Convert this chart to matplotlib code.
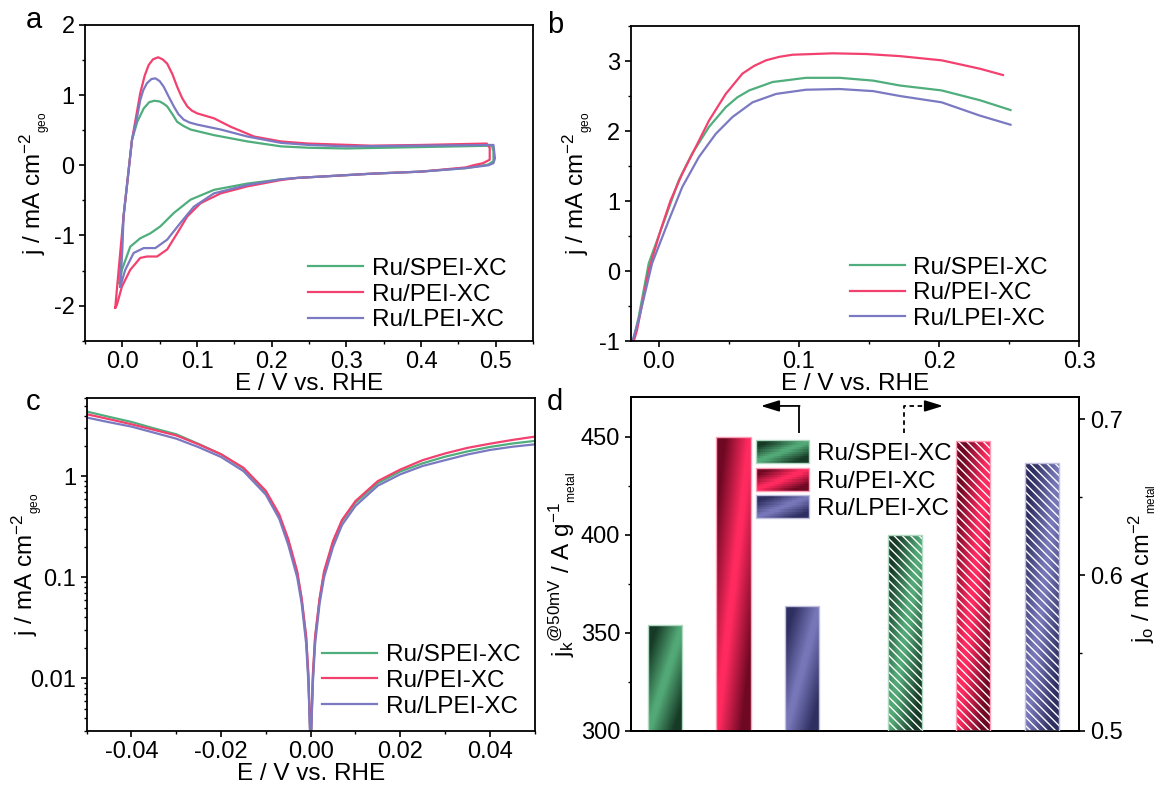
import numpy as np
import matplotlib
matplotlib.use("Agg")
import matplotlib.pyplot as plt
from matplotlib.ticker import MultipleLocator, LogLocator, FuncFormatter, NullFormatter
from matplotlib.legend_handler import HandlerBase
from matplotlib.patches import Rectangle
import matplotlib.colors as mcolors

# ---------------- data ----------------
series = ["Ru/SPEI-XC", "Ru/PEI-XC", "Ru/LPEI-XC"]
line_colors = ["#4fae7c", "#f2416f", "#7b79c1"]

# (a) cyclic voltammograms: anodic (upper) and cathodic (lower) branches
cv_spei_E = [-0.0037, -0.001, 0.0016, 0.0129, 0.020, 0.0286, 0.036, 0.0429, 0.050, 0.055, 0.060, 0.067,
             0.0734, 0.082, 0.0913, 0.1227, 0.1676, 0.2124, 0.25, 0.30, 0.35, 0.40, 0.45, 0.495, 0.497,
             0.497, 0.49, 0.46, 0.40, 0.333, 0.284, 0.234, 0.2124, 0.1676, 0.1227, 0.0913, 0.0689,
             0.051, 0.0375, 0.024, 0.0106, -0.0006, -0.0037]
cv_spei_j = [-1.68, -1.20, -0.73, 0.36, 0.62, 0.81, 0.90, 0.92, 0.91, 0.88, 0.84, 0.73,
             0.62, 0.56, 0.51, 0.43, 0.34, 0.27, 0.25, 0.24, 0.25, 0.26, 0.27, 0.28, 0.20,
             0.06, 0.01, -0.04, -0.09, -0.12, -0.15, -0.18, -0.20, -0.26, -0.35, -0.49, -0.68,
             -0.87, -0.97, -1.04, -1.16, -1.49, -1.68]

cv_pei_E = [-0.0095, -0.005, 0.0016, 0.0129, 0.024, 0.030, 0.0353, 0.041, 0.0479, 0.054, 0.060, 0.067,
            0.0734, 0.080, 0.0869, 0.093, 0.1003, 0.1227, 0.145, 0.1765, 0.2124, 0.249, 0.333, 0.40,
            0.488, 0.492, 0.492, 0.483, 0.47, 0.46, 0.40, 0.333, 0.284, 0.234, 0.2124, 0.1676,
            0.1317, 0.1048, 0.0869, 0.0734, 0.060, 0.0465, 0.0331, 0.024, 0.0106, -0.0006,
            -0.0073, -0.0095]
cv_pei_j = [-2.03, -1.50, -0.73, 0.36, 1.03, 1.28, 1.43, 1.51, 1.54, 1.51, 1.45, 1.30,
            1.12, 0.96, 0.84, 0.78, 0.74, 0.67, 0.55, 0.41, 0.34, 0.31, 0.28, 0.29,
            0.31, 0.25, 0.08, 0.03, 0.0, -0.03, -0.09, -0.12, -0.15, -0.18, -0.21, -0.30,
            -0.40, -0.54, -0.73, -0.97, -1.20, -1.30, -1.30, -1.32, -1.49, -1.73,
            -1.99, -2.03]

cv_lpei_E = [-0.0028, 0.0, 0.0016, 0.0129, 0.020, 0.024, 0.028, 0.033, 0.039, 0.0442, 0.050, 0.0554,
             0.062, 0.0689, 0.075, 0.0823, 0.090, 0.1003, 0.1317, 0.1676, 0.2124, 0.25, 0.30, 0.40,
             0.497, 0.499, 0.497, 0.49, 0.46, 0.40, 0.333, 0.284, 0.234, 0.2124, 0.1676, 0.1227,
             0.0958, 0.0779, 0.060, 0.0442, 0.0286, 0.0151, 0.0039, -0.0028]
cv_lpei_j = [-1.73, -1.20, -0.73, 0.36, 0.70, 0.93, 1.07, 1.17, 1.23, 1.24, 1.20, 1.12,
             0.98, 0.84, 0.73, 0.65, 0.61, 0.58, 0.51, 0.41, 0.32, 0.29, 0.27, 0.28,
             0.29, 0.10, 0.03, 0.0, -0.04, -0.09, -0.12, -0.15, -0.18, -0.20, -0.28, -0.40,
             -0.59, -0.82, -1.06, -1.18, -1.18, -1.25, -1.49, -1.73]

# (b) polarization curves
pol_spei_E = [-0.0185, -0.0143, -0.0071, 0.0049, 0.0144, 0.0239, 0.0359, 0.0478, 0.056, 0.0645, 0.0812,
              0.105, 0.129, 0.1529, 0.172, 0.2017, 0.229, 0.2508]
pol_spei_j = [-1.02, -0.66, 0.11, 0.77, 1.30, 1.68, 2.06, 2.34, 2.48, 2.58, 2.70,
              2.76, 2.76, 2.72, 2.65, 2.58, 2.44, 2.30]
pol_pei_E = [-0.0185, -0.0155, -0.0071, 0.0013, 0.0085, 0.0168, 0.0264, 0.0359, 0.0478, 0.0597,
             0.068, 0.0765, 0.086, 0.0955, 0.110, 0.124, 0.148, 0.172, 0.2017, 0.229, 0.2454]
pol_pei_j = [-1.05, -0.85, 0.01, 0.58, 1.01, 1.39, 1.77, 2.15, 2.53, 2.82,
             2.93, 3.01, 3.06, 3.09, 3.10, 3.11, 3.10, 3.07, 3.01, 2.89, 2.80]
pol_lpei_E = [-0.0190, -0.0143, -0.0047, 0.0071, 0.0168, 0.0287, 0.0407, 0.0526, 0.0669, 0.0837,
              0.105, 0.129, 0.1529, 0.172, 0.2017, 0.229, 0.2508]
pol_lpei_j = [-1.02, -0.70, 0.11, 0.72, 1.20, 1.63, 1.96, 2.20, 2.41, 2.53,
              2.59, 2.60, 2.57, 2.50, 2.41, 2.22, 2.09]

# (c) micro-polarization region, |j| on log scale
mp_E = [-0.05, -0.045, -0.04, -0.035, -0.03, -0.025, -0.02, -0.015, -0.01, -0.007, -0.005, -0.003,
        -0.002, -0.001, -0.0005, 0.0, 0.0005, 0.001, 0.002, 0.003, 0.005, 0.007, 0.01, 0.015,
        0.02, 0.025, 0.03, 0.035, 0.04, 0.045, 0.05]
mp_spei_j = [4.4, 3.9, 3.47, 3.0, 2.62, 2.1, 1.66, 1.2, 0.70, 0.40, 0.23, 0.11,
             0.06, 0.025, 0.01, 0.002, 0.01, 0.025, 0.06, 0.11, 0.22, 0.36, 0.55, 0.86,
             1.12, 1.35, 1.57, 1.77, 1.96, 2.12, 2.25]
mp_pei_j = [4.14, 3.7, 3.29, 2.9, 2.55, 2.08, 1.66, 1.22, 0.72, 0.42, 0.24, 0.115,
            0.062, 0.026, 0.011, 0.002, 0.011, 0.026, 0.062, 0.115, 0.23, 0.37, 0.57, 0.90,
            1.17, 1.45, 1.69, 1.92, 2.11, 2.30, 2.48]
mp_lpei_j = [3.84, 3.45, 3.12, 2.72, 2.37, 1.95, 1.56, 1.13, 0.66, 0.38, 0.21, 0.10,
             0.055, 0.022, 0.009, 0.002, 0.009, 0.022, 0.055, 0.10, 0.20, 0.33, 0.51, 0.81,
             1.05, 1.27, 1.45, 1.65, 1.83, 1.97, 2.08]

# (d) kinetic current (left axis) and exchange current density (right axis)
jk_values = [354, 450, 364]          # A g-1 metal
j0_values = [0.626, 0.686, 0.672]    # mA cm-2 metal
jk_pos = [1, 2, 3]
j0_pos = [4.5, 5.5, 6.5]
bar_light = ["#52a876", "#ff2a5f", "#7676b8"]
bar_dark = ["#163a26", "#6e0823", "#2e2e60"]

# ---------------- style ----------------
plt.rcParams.update({
    "font.family": ["Liberation Sans", "DejaVu Sans"],
    "mathtext.fontset": "custom",
    "mathtext.rm": "Liberation Sans",
    "mathtext.it": "Liberation Sans:italic",
    "mathtext.bf": "Liberation Sans:bold",
    "mathtext.default": "regular",
    "axes.unicode_minus": False,
    "font.size": 17,
    "axes.linewidth": 1.3,
    "xtick.direction": "out", "ytick.direction": "out",
    "xtick.major.size": 4, "ytick.major.size": 4,
    "xtick.minor.size": 2.5, "ytick.minor.size": 2.5,
    "xtick.major.width": 1.2, "ytick.major.width": 1.2,
    "xtick.minor.width": 1.0, "ytick.minor.width": 1.0,
    "xtick.major.pad": 3.5, "ytick.major.pad": 3.5,
    "xtick.labelsize": 17, "ytick.labelsize": 17,
    "axes.labelsize": 17.5,
    "hatch.linewidth": 1.0,
})

FS_LEG = 17.5
LW = 1.6

fig = plt.figure(figsize=(11.58, 7.91), dpi=100)
axA = fig.add_axes([0.0734, 0.5693, 0.3869, 0.3991])
axB = fig.add_axes([0.5446, 0.5689, 0.3876, 0.3982])
axC = fig.add_axes([0.0748, 0.0759, 0.3869, 0.4210])
axD = fig.add_axes([0.5446, 0.0759, 0.3876, 0.4223])

ylab_geo = r"j / mA cm$^{-2}$$_{_{geo}}$"
xlab = "E / V vs. RHE"


def small_legend(ax, anchor):
    ax.legend(loc="lower right", bbox_to_anchor=anchor, frameon=False, fontsize=FS_LEG,
              borderpad=0, borderaxespad=0, handlelength=2.25, handletextpad=0.35,
              labelspacing=0.15)


# ---- (a)
for E, j, lab, c in zip([cv_spei_E, cv_pei_E, cv_lpei_E], [cv_spei_j, cv_pei_j, cv_lpei_j],
                        series, line_colors):
    axA.plot(E, j, color=c, lw=LW, label=lab)
axA.set_xlim(-0.05, 0.55)
axA.set_ylim(-2.5, 2)
axA.xaxis.set_major_locator(MultipleLocator(0.1))
axA.xaxis.set_minor_locator(MultipleLocator(0.05))
axA.yaxis.set_major_locator(MultipleLocator(1))
axA.yaxis.set_minor_locator(MultipleLocator(0.5))
axA.xaxis.set_major_formatter(FuncFormatter(lambda v, p: f"{v:.1f}"))
axA.set_xlabel(xlab, labelpad=0)
axA.set_ylabel(ylab_geo)
axA.yaxis.set_label_coords(-0.072, 0.5)
small_legend(axA, (0.94, 0.03))

# ---- (b)
for E, j, lab, c in zip([pol_spei_E, pol_pei_E, pol_lpei_E], [pol_spei_j, pol_pei_j, pol_lpei_j],
                        series, line_colors):
    axB.plot(E, j, color=c, lw=LW, label=lab)
axB.set_xlim(-0.02, 0.3)
axB.set_ylim(-1, 3.5)
axB.xaxis.set_major_locator(MultipleLocator(0.1))
axB.xaxis.set_minor_locator(MultipleLocator(0.05))
axB.yaxis.set_major_locator(MultipleLocator(1))
axB.yaxis.set_minor_locator(MultipleLocator(0.5))
axB.xaxis.set_major_formatter(FuncFormatter(lambda v, p: f"{v:.1f}"))
axB.set_xlabel(xlab, labelpad=0)
axB.set_ylabel(ylab_geo)
axB.yaxis.set_label_coords(-0.077, 0.5)
small_legend(axB, (0.93, 0.035))

# ---- (c)
for j, lab, c in zip([mp_spei_j, mp_pei_j, mp_lpei_j], series, line_colors):
    axC.plot(mp_E, j, color=c, lw=LW, label=lab)
axC.set_yscale("log")
axC.set_xlim(-0.05, 0.05)
axC.set_ylim(0.003, 6)
axC.xaxis.set_major_locator(MultipleLocator(0.02))
axC.xaxis.set_minor_locator(MultipleLocator(0.01))
axC.xaxis.set_major_formatter(FuncFormatter(lambda v, p: f"{v:.2f}"))
axC.yaxis.set_major_locator(LogLocator(base=10))
axC.yaxis.set_minor_locator(LogLocator(base=10, subs=np.arange(2, 10)))
axC.yaxis.set_major_formatter(FuncFormatter(lambda v, p: f"{v:g}"))
axC.yaxis.set_minor_formatter(NullFormatter())
axC.set_xlabel(xlab, labelpad=0)
axC.set_ylabel(ylab_geo)
axC.yaxis.set_label_coords(-0.092, 0.5)
small_legend(axC, (0.968, 0.04))


# ---- (d)
def grad_rgb(light, dark, nx=40, ny=120):
    lo = np.array(mcolors.to_rgb(light))
    dk = np.array(mcolors.to_rgb(dark))
    u = np.linspace(0, 1, nx)[None, :]
    v = np.linspace(0, 1, ny)[:, None]
    s = np.clip(np.abs(u - v) * 1.5 - 0.1, 0, 1)
    return lo[None, None, :] * (1 - s[..., None]) + dk[None, None, :] * s[..., None]


def gradient_bars(ax, pos, vals, base, hatch=None):
    bars = ax.bar(pos, np.array(vals) - base, bottom=base, width=0.5,
                  facecolor="none", edgecolor="none", zorder=2)
    for rect, lc, dc in zip(bars, bar_light, bar_dark):
        x0, y0 = rect.get_x(), rect.get_y()
        w, h = rect.get_width(), rect.get_height()
        im = ax.imshow(grad_rgb(lc, dc), extent=(x0, x0 + w, y0, y0 + h), origin="lower",
                       aspect="auto", zorder=1.5, interpolation="bilinear")
        im.set_clip_path(rect)
        edge = tuple(0.45 * np.array(mcolors.to_rgb(lc)) + 0.55)
        if hatch:
            ax.bar(x0 + w / 2, h, bottom=y0, width=w, facecolor="none", edgecolor="white",
                   hatch=hatch, linewidth=0, zorder=2.5)
        ax.bar(x0 + w / 2, h, bottom=y0, width=w, facecolor="none", edgecolor=edge,
               linewidth=1.0, zorder=3)


gradient_bars(axD, jk_pos, jk_values, 300)
axD.set_xlim(0.5, 7.05)
axD.set_ylim(300, 470.4)
axD.set_xticks([])
axD.yaxis.set_major_locator(MultipleLocator(50))
axD.yaxis.set_minor_locator(MultipleLocator(25))
axD.set_ylabel(r"j$_{k}$$^{@50mV}$ / A g$^{-1}$$_{_{metal}}$")
axD.yaxis.set_label_coords(-0.117, 0.5)

# axis indicator arrows (left-axis data coordinates)
arrow_kw = dict(arrowstyle="-|>,head_length=0.55,head_width=0.17", color="k", lw=1.3,
                shrinkA=0, shrinkB=0, mutation_scale=20)
axD.plot([2.96, 2.96], [451.9, 465.8], color="k", lw=1.3, solid_capstyle="butt")
axD.annotate("", xy=(2.40, 465.8), xytext=(2.965, 465.8), arrowprops=arrow_kw)
axD.plot([4.49, 4.49, 4.90], [451.9, 465.8, 465.8], color="k", lw=1.3, ls=(0, (2.5, 2)))
axD.annotate("", xy=(5.06, 465.8), xytext=(4.88, 465.8), arrowprops=arrow_kw)

axD2 = axD.twinx()
gradient_bars(axD2, j0_pos, j0_values, 0.5, hatch="\\\\\\\\")
axD2.set_xlim(0.5, 7.05)
axD2.set_ylim(0.5, 0.7143)
axD2.yaxis.set_major_locator(MultipleLocator(0.1))
axD2.yaxis.set_minor_locator(MultipleLocator(0.05))
axD2.yaxis.set_major_formatter(FuncFormatter(lambda v, p: f"{v:.1f}"))
axD2.set_ylabel(r"j$_{o}$ / mA cm$^{-2}$$_{_{metal}}$", fontsize=17)
axD2.yaxis.set_label_coords(1.105, 0.5)
for s in axD2.spines.values():
    s.set_linewidth(1.3)


class GradKey:
    def __init__(self, light, dark):
        self.light, self.dark = light, dark


class HandlerGrad(HandlerBase):
    def create_artists(self, legend, orig_handle, xdescent, ydescent, width, height,
                       fontsize, trans):
        nx, ny = 28, 10
        rgb = grad_rgb(orig_handle.light, orig_handle.dark, nx, ny)
        arts = []
        for iy in range(ny):
            for ix in range(nx):
                r = Rectangle((-xdescent + ix * width / nx, -ydescent + iy * height / ny),
                              width / nx * 1.05, height / ny * 1.05, facecolor=rgb[iy, ix],
                              edgecolor="none", lw=0, transform=trans, antialiased=False)
                arts.append(r)
        edge = tuple(0.45 * np.array(mcolors.to_rgb(orig_handle.light)) + 0.55)
        arts.append(Rectangle((-xdescent, -ydescent), width, height, facecolor="none",
                              edgecolor=edge, lw=1.0, transform=trans))
        return arts


keys = [GradKey(l, d) for l, d in zip(bar_light, bar_dark)]
axD2.legend(keys, series, handler_map={GradKey: HandlerGrad()}, loc="upper left",
            bbox_to_anchor=(0.2787, 0.871), frameon=False, fontsize=FS_LEG, borderpad=0,
            borderaxespad=0, handlelength=2.2, handleheight=1.08, labelspacing=0.12,
            handletextpad=0.3)

# panel letters
for txt, x, y in [("a", 26, 28), ("b", 547, 33), ("c", 26, 410), ("d", 547, 410)]:
    fig.text(x / 1158, 1 - y / 791, txt, fontsize=21, ha="left", va="baseline")

fig.savefig("out.png", dpi=100)
